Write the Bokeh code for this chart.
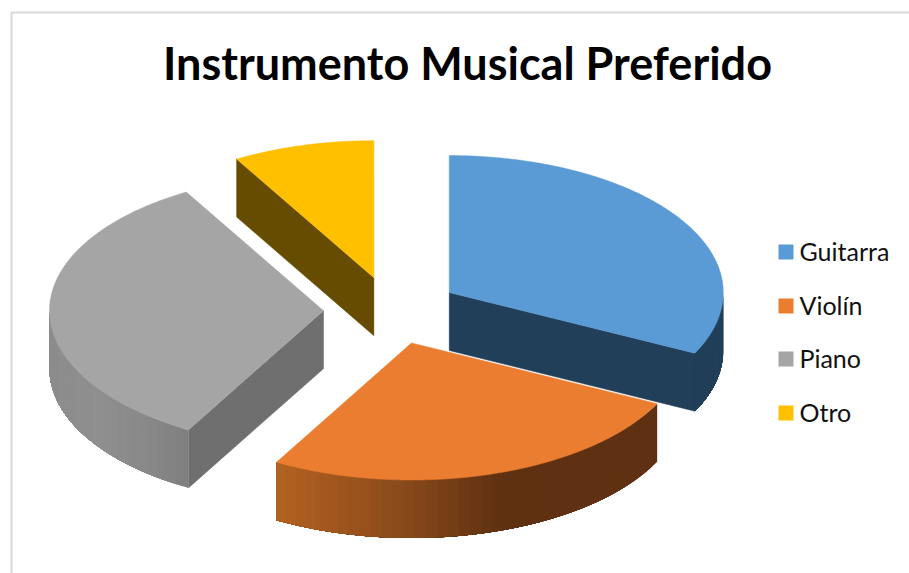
import numpy as np
from bokeh.plotting import figure
from bokeh.models import Range1d
from bokeh.core.properties import value
from bokeh.embed import file_html
from bokeh.resources import INLINE

title_text = "Instrumento Musical Preferido"
categories = ["Guitarra", "Violín", "Piano", "Otro"]
values = [32.3, 25.9, 33.45, 8.35]
top_colors = ["#5B9BD5", "#EB7D31", "#A5A5A5", "#FFC000"]
radial_colors = ["#223F59", "#5F3112", "#6F6F6F", "#664C00"]

W, H = 909, 573
CX, CY, RX, RY, DEPTH, EXPLODE = 391.0, 310.0, 274.0, 137.0, 58.0, 68.0

p = figure(width=W, height=H, output_backend="svg", toolbar_location=None,
           x_range=Range1d(0, W), y_range=Range1d(H, 0),
           x_axis_type="linear", min_border=0)
p.axis.visible = False
p.grid.visible = False
p.outline_line_color = None
p.background_fill_color = "white"
p.border_fill_color = "white"

# chart frame (cropped at right and bottom in the reference)
p.line([W, 11, 11], [12, 12, H], line_color="#D9D9D9", line_width=2)


def pt(c, a, dz=0.0):
    return c[0] + RX * np.sin(a), c[1] - RY * np.cos(a) + dz


def lerp_hex(stops, t):
    xs = [s[0] for s in stops]
    rgb = [np.interp(t, xs, [int(s[1][i:i + 2], 16) for s in stops]) for i in (1, 3, 5)]
    return "#%02x%02x%02x" % tuple(int(round(v)) for v in rgb)


total = sum(values)
angles = np.cumsum([0.0] + values) / total * 2 * np.pi
slices = {}
for i, name in enumerate(categories):
    a0, a1 = angles[i], angles[i + 1]
    mid = (a0 + a1) / 2
    c = (CX + EXPLODE * np.sin(mid), CY - EXPLODE * 0.5 * np.cos(mid))
    slices[name] = (i, a0, a1, c)

side_ramps = {
    "Guitarra": [(0, "#223F59"), (2000, "#223F59")],
    "Violín": [(275, "#B46220"), (400, "#8A4A1B"), (500, "#5F3112"), (2000, "#5F3112")],
    "Piano": [(50, "#8C8C8C"), (100, "#8F8F8F"), (150, "#888888"), (187, "#7F7F7F")],
    "Otro": [(0, "#664C00"), (2000, "#664C00")],
}


def draw_outer(name, a_from, a_to):
    i, a0, a1, c = slices[name]
    a_from, a_to = max(a0, a_from), min(a1, a_to)
    if a_to <= a_from:
        return
    edges = np.linspace(a_from, a_to, 41)
    # painter's order: every band runs to the far end of the arc, so no seams show
    for k in range(len(edges) - 1):
        t = np.linspace(edges[k], a_to, 80)
        x, y = pt(c, t)
        col = lerp_hex(side_ramps[name], (pt(c, edges[k])[0] + pt(c, edges[k + 1])[0]) / 2)
        p.patch(np.r_[x, x[::-1]], np.r_[y, (y + DEPTH)[::-1]], fill_color=col, line_color=None)


def draw_radial(name, a):
    i, a0, a1, c = slices[name]
    x, y = pt(c, a)
    p.patch([c[0], x, x, c[0]], [c[1], y, y + DEPTH, c[1] + DEPTH],
            fill_color=radial_colors[i], line_color=radial_colors[i], line_width=0.5)


def draw_top(name):
    i, a0, a1, c = slices[name]
    t = np.linspace(a0, a1, 160)
    x, y = pt(c, t)
    p.patch(np.r_[c[0], x], np.r_[c[1], y], fill_color=top_colors[i],
            line_color=top_colors[i], line_width=0.5)


for name in ["Otro", "Piano", "Guitarra", "Violín"]:
    i, a0, a1, c = slices[name]
    if name in ("Otro", "Piano"):
        draw_radial(name, a0)
    if name == "Guitarra":
        draw_radial(name, a1)
    draw_outer(name, np.pi / 2, 3 * np.pi / 2)
    draw_top(name)

p.text([467], [62], text=[title_text], text_font=value("Lato"), text_font_style="bold",
       text_font_size="45px", text_color="#000000", text_align="center", text_baseline="middle")

leg_y = [251.5, 305.5, 358.5, 412.5]
p.quad(left=[778] * 4, right=[793] * 4,
       top=[y - 7.5 for y in leg_y], bottom=[y + 7.5 for y in leg_y],
       fill_color=top_colors, line_color=None)
p.text([799] * 4, [y - 1.5 for y in leg_y], text=categories, text_font=value("Lato"),
       text_font_size="25px", text_color="#111111", text_align="left", text_baseline="middle")

open("out.html", "w").write(file_html(p, INLINE))
